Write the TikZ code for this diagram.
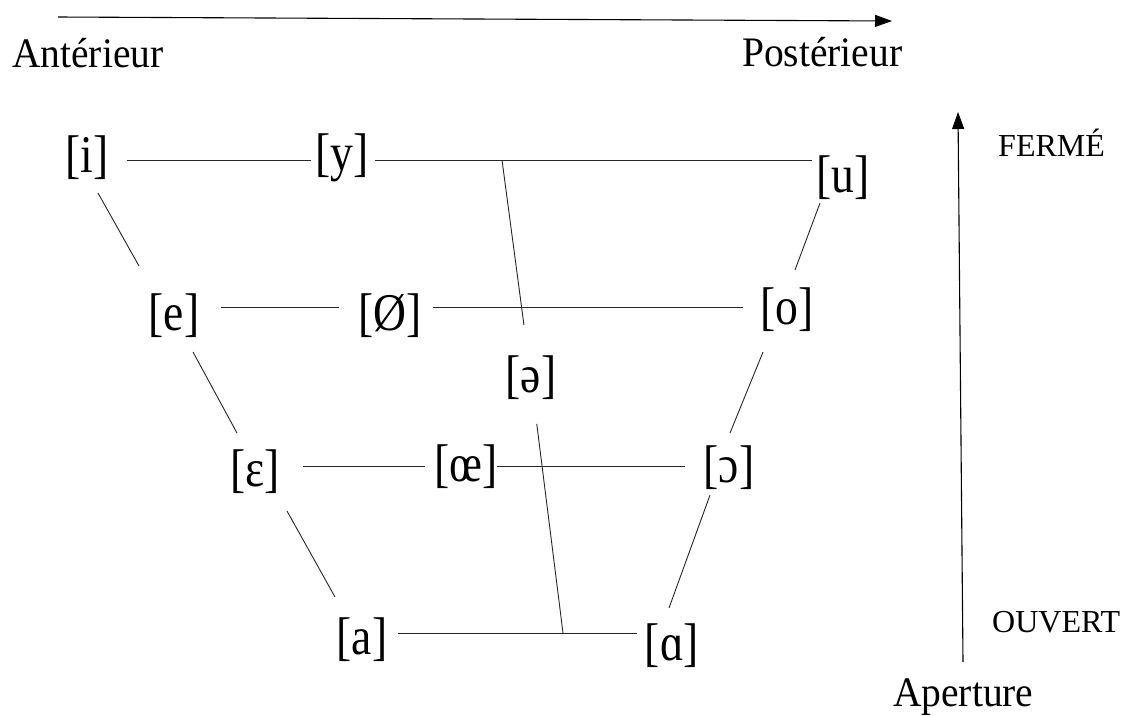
\documentclass[tikz,border=0pt]{standalone}
\usepackage{fontspec}
\setmainfont{Liberation Serif}
\usetikzlibrary{arrows.meta,calc}
\newcommand\vw[1]{\scalebox{0.86}[1]{#1}}
\newcommand\lb[1]{\scalebox{0.94}[1]{#1}}
\begin{document}
\begin{tikzpicture}[x=1pt,y=-1pt,
  vowel/.style={inner sep=0pt,font=\fontsize{53}{60}\selectfont},
  axislabel/.style={inner sep=0pt,anchor=base west,font=\fontsize{42}{48}\selectfont},
  endlabel/.style={inner sep=0pt,anchor=base west,font=\fontsize{32}{38}\selectfont},
  conn/.style={draw=black!85,line width=0.9pt},
  axis/.style={draw=black,line width=1.1pt,-{Triangle[length=17pt,width=12pt]}}]
\useasboundingbox (0,0) rectangle (1126,716);
% axes
\coordinate (h0) at (58,17);
\coordinate (h1) at (892,21);
\coordinate (v0) at (963,662);
\coordinate (v1) at (958,112);
\draw[axis] (h0) -- (h1);
\draw[axis] (v0) -- (v1);
\node[axislabel] (ant) at (12,67) {\lb{Antérieur}};
\node[axislabel] (post) at (742,66) {\lb{Postérieur}};
\node[axislabel] (ap) at (893,706) {\lb{Aperture}};
\node[endlabel] (ferme) at (998,156) {FERMÉ};
\node[endlabel] (ouvert) at (992,632) {OUVERT};
% vowels
\node[vowel] (i) at (87,158) {\vw{[i]}};
\node[vowel] (y) at (342,158) {\vw{[y]}};
\node[vowel] (u) at (843,178) {\vw{[u]}};
\node[vowel] (e) at (174,316) {\vw{[e]}};
\node[vowel] (oe1) at (390,316) {\vw{[Ø]}};
\node[vowel] (o) at (787,310) {\vw{[o]}};
\node[vowel] (schwa) at (531,378) {\vw{[ə]}};
\node[vowel] (eps) at (255,472) {\vw{[ɛ]}};
\node[vowel] (oe2) at (466,467) {\vw{[œ]}};
\node[vowel] (oo) at (729,468) {\vw{[ɔ]}};
\node[vowel] (a) at (362,640) {\vw{[a]}};
\node[vowel] (aa) at (672,646) {\vw{[ɑ]}};
\coordinate (st) at (502,160);
\coordinate (sb) at (563,633);
% horizontal rows
\draw[conn] ([xshift=18pt,yshift=-2pt]i.east) -- ([xshift=-4pt,yshift=-2pt]y.west);
\draw[conn] ([xshift=6pt,yshift=-2pt]y.east) coordinate (yr) -- ([xshift=-4pt]u.west |- yr);
\draw[conn] ([xshift=22pt,yshift=9pt]e.east) -- ([xshift=-19pt,yshift=9pt]oe1.west);
\draw[conn] ([xshift=11pt,yshift=9pt]oe1.east) coordinate (or) -- ([xshift=-17pt]o.west |- or);
\draw[conn] ([xshift=23pt,yshift=6pt]eps.east) coordinate (er) -- ([xshift=-9pt]oe2.west |- er);
\draw[conn] ([xshift=-1pt]oe2.east |- er) -- ([xshift=-19pt]oo.west |- er);
\draw[conn] ([xshift=10pt,yshift=7pt]a.east) coordinate (ar) -- ([xshift=-8pt]aa.west |- ar);
% central line
\draw[conn,shorten >=31pt] (st) -- (schwa);
\draw[conn,shorten <=24pt] (schwa) -- (sb);
% left edge
\draw[conn] ($(i.center)+(11,35)$) -- ($(e.center)+(-35,-50)$);
\draw[conn] ($(e.center)+(19,36)$) -- ($(eps.center)+(-18,-39)$);
\draw[conn] ($(eps.center)+(32,39)$) -- ($(a.center)+(-27,-43)$);
% right edge
\draw[conn] ($(u.center)+(-23,25)$) -- ($(o.center)+(8,-40)$);
\draw[conn] ($(o.center)+(-24,42)$) -- ($(oo.center)+(1,-35)$);
\draw[conn] ($(oo.center)+(-19,27)$) -- ($(aa.center)+(-3,-38)$);
\end{tikzpicture}
\end{document}
